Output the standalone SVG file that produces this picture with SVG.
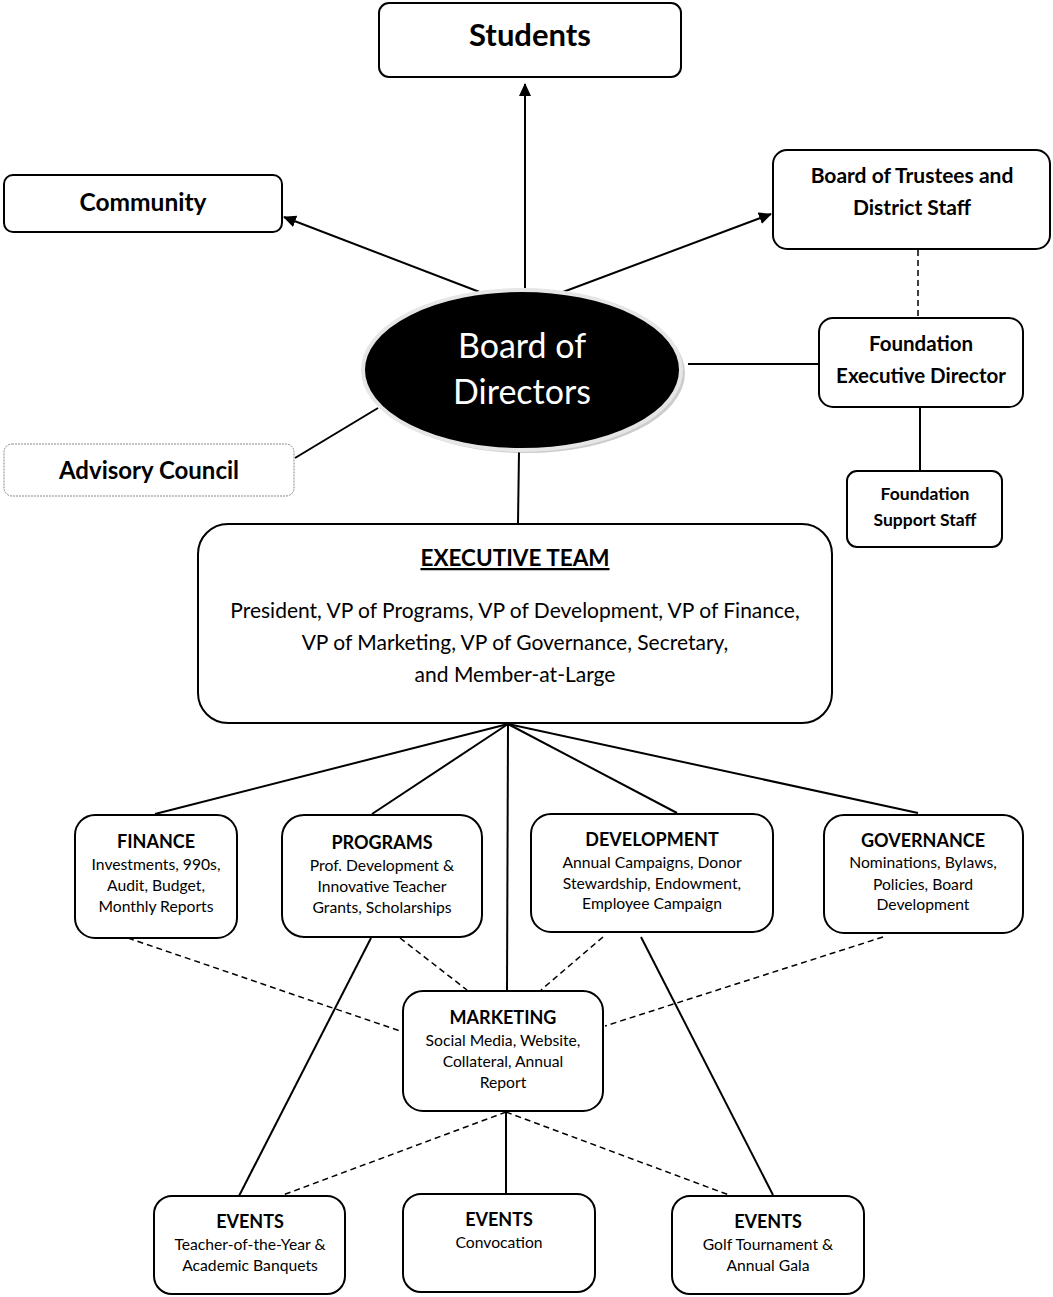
<svg xmlns="http://www.w3.org/2000/svg" width="1053" height="1297" viewBox="0 0 1053 1297">
<style>
text{font-family:Lato,"Open Sans","Liberation Sans",sans-serif;fill:#000;text-anchor:middle}
.box{fill:#fff;stroke:#000;stroke-width:2}
.b{font-weight:bold}
.t{font-size:15.7px}
.h{font-size:18px;font-weight:bold}
.ln{stroke:#000;stroke-width:2;fill:none}
.ds{stroke:#000;stroke-width:1.5;fill:none;stroke-dasharray:6,4}
</style>
<defs>
<marker id="ah" markerWidth="13" markerHeight="12" refX="12" refY="6" orient="auto" markerUnits="userSpaceOnUse">
<path d="M0,0 L13,6 L0,12 z" fill="#000"/>
</marker>
</defs>
<rect width="1053" height="1297" fill="#fff"/>
<g id="connectors">
<line class="ln" x1="525" y1="292" x2="525" y2="84" marker-end="url(#ah)"/>
<line class="ln" x1="490" y1="296" x2="284" y2="217" marker-end="url(#ah)"/>
<line class="ln" x1="555" y1="295" x2="771" y2="214" marker-end="url(#ah)"/>
<line class="ds" x1="918" y1="250" x2="918" y2="317"/>
<line class="ln" x1="688" y1="364" x2="819" y2="364"/>
<line class="ln" x1="920" y1="407" x2="920" y2="471"/>
<line class="ln" x1="295" y1="458" x2="378" y2="408"/>
<line class="ln" x1="519" y1="452" x2="518" y2="523"/>
<line class="ln" x1="508" y1="724" x2="155" y2="814"/>
<line class="ln" x1="508" y1="724" x2="372" y2="814"/>
<line class="ln" x1="508" y1="724" x2="507" y2="991"/>
<line class="ln" x1="508" y1="724" x2="677" y2="813"/>
<line class="ln" x1="508" y1="724" x2="918" y2="813"/>
<line class="ds" x1="128" y1="938" x2="403" y2="1032"/>
<line class="ds" x1="400" y1="938" x2="467" y2="990"/>
<line class="ds" x1="603" y1="937" x2="541" y2="990"/>
<line class="ds" x1="883" y1="937" x2="605" y2="1026"/>
<line class="ln" x1="371" y1="938" x2="239" y2="1196"/>
<line class="ln" x1="641" y1="937" x2="773" y2="1195"/>
<line class="ln" x1="506" y1="1112" x2="506" y2="1194"/>
<line class="ds" x1="506" y1="1112" x2="283" y2="1195"/>
<line class="ds" x1="506" y1="1112" x2="729" y2="1195"/>
</g>
<g id="students">
<rect class="box" x="379" y="3" width="302" height="74" rx="10"/>
<text class="b" x="530" y="46" font-size="31">Students</text>
</g>
<g id="community">
<rect class="box" x="4" y="175" width="278" height="57" rx="9"/>
<text class="b" x="143" y="211" font-size="24.5">Community</text>
</g>
<g id="trustees">
<rect class="box" x="773" y="150" width="277" height="99" rx="14"/>
<text class="b" x="912" y="183" font-size="21">Board of Trustees and</text>
<text class="b" x="912" y="215" font-size="21">District Staff</text>
</g>
<g id="board">
<ellipse cx="526" cy="373" rx="159" ry="80" fill="#aaa" opacity="0.6"/>
<ellipse cx="522" cy="370" rx="159" ry="80" fill="#000" stroke="#e6e6e6" stroke-width="4"/>
<text x="522" y="358" font-size="34" style="fill:#fff">Board of</text>
<text x="522" y="404" font-size="34" style="fill:#fff">Directors</text>
</g>
<g id="exec-director">
<rect class="box" x="819" y="318" width="204" height="89" rx="14"/>
<text class="b" x="921" y="351" font-size="20.5">Foundation</text>
<text class="b" x="921" y="383" font-size="20.5">Executive Director</text>
</g>
<g id="support-staff">
<rect class="box" x="847" y="471" width="155" height="76" rx="10"/>
<text class="b" x="925" y="500" font-size="17.5">Foundation</text>
<text class="b" x="925" y="526" font-size="17.5">Support Staff</text>
</g>
<g id="advisory">
<rect x="4" y="444" width="290" height="52" rx="8" fill="#fff" stroke="#888" stroke-width="1" stroke-dasharray="2,1"/>
<text class="b" x="149" y="479" font-size="24">Advisory Council</text>
</g>
<g id="executive-team">
<rect class="box" x="198" y="524" width="634" height="199" rx="30"/>
<text class="b" x="515" y="566" font-size="22.5" text-decoration="underline">EXECUTIVE TEAM</text>
<text x="515" y="618" font-size="21">President, VP of Programs, VP of Development, VP of Finance,</text>
<text x="515" y="650" font-size="21">VP of Marketing, VP of Governance, Secretary,</text>
<text x="515" y="682" font-size="21">and Member-at-Large</text>
</g>
<g id="finance">
<rect class="box" x="75" y="815" width="162" height="123" rx="20"/>
<text class="h" x="156" y="848">FINANCE</text>
<text class="t" x="156" y="870">Investments, 990s,</text>
<text class="t" x="156" y="891">Audit, Budget,</text>
<text class="t" x="156" y="912">Monthly Reports</text>
</g>
<g id="programs">
<rect class="box" x="282" y="815" width="200" height="122" rx="22"/>
<text class="h" x="382" y="849">PROGRAMS</text>
<text class="t" x="382" y="871">Prof. Development &amp;</text>
<text class="t" x="382" y="892">Innovative Teacher</text>
<text class="t" x="382" y="913">Grants, Scholarships</text>
</g>
<g id="development">
<rect class="box" x="531" y="814" width="242" height="118" rx="20"/>
<text class="h" x="652" y="846">DEVELOPMENT</text>
<text class="t" x="652" y="868">Annual Campaigns, Donor</text>
<text class="t" x="652" y="889">Stewardship, Endowment,</text>
<text class="t" x="652" y="909">Employee Campaign</text>
</g>
<g id="governance">
<rect class="box" x="824" y="815" width="199" height="118" rx="20"/>
<text class="h" x="923" y="847">GOVERNANCE</text>
<text class="t" x="923" y="868">Nominations, Bylaws,</text>
<text class="t" x="923" y="890">Policies, Board</text>
<text class="t" x="923" y="910">Development</text>
</g>
<g id="marketing">
<rect class="box" x="403" y="991" width="200" height="120" rx="20"/>
<text class="h" x="503" y="1024">MARKETING</text>
<text class="t" x="503" y="1046">Social Media, Website,</text>
<text class="t" x="503" y="1067">Collateral, Annual</text>
<text class="t" x="503" y="1088">Report</text>
</g>
<g id="events-banquets">
<rect class="box" x="154" y="1196" width="191" height="98" rx="18"/>
<text class="h" x="250" y="1228">EVENTS</text>
<text class="t" x="250" y="1250">Teacher-of-the-Year &amp;</text>
<text class="t" x="250" y="1271">Academic Banquets</text>
</g>
<g id="events-convocation">
<rect class="box" x="403" y="1194" width="192" height="98" rx="18"/>
<text class="h" x="499" y="1226">EVENTS</text>
<text class="t" x="499" y="1248">Convocation</text>
</g>
<g id="events-gala">
<rect class="box" x="672" y="1196" width="192" height="98" rx="18"/>
<text class="h" x="768" y="1228">EVENTS</text>
<text class="t" x="768" y="1250">Golf Tournament &amp;</text>
<text class="t" x="768" y="1271">Annual Gala</text>
</g>
</svg>
